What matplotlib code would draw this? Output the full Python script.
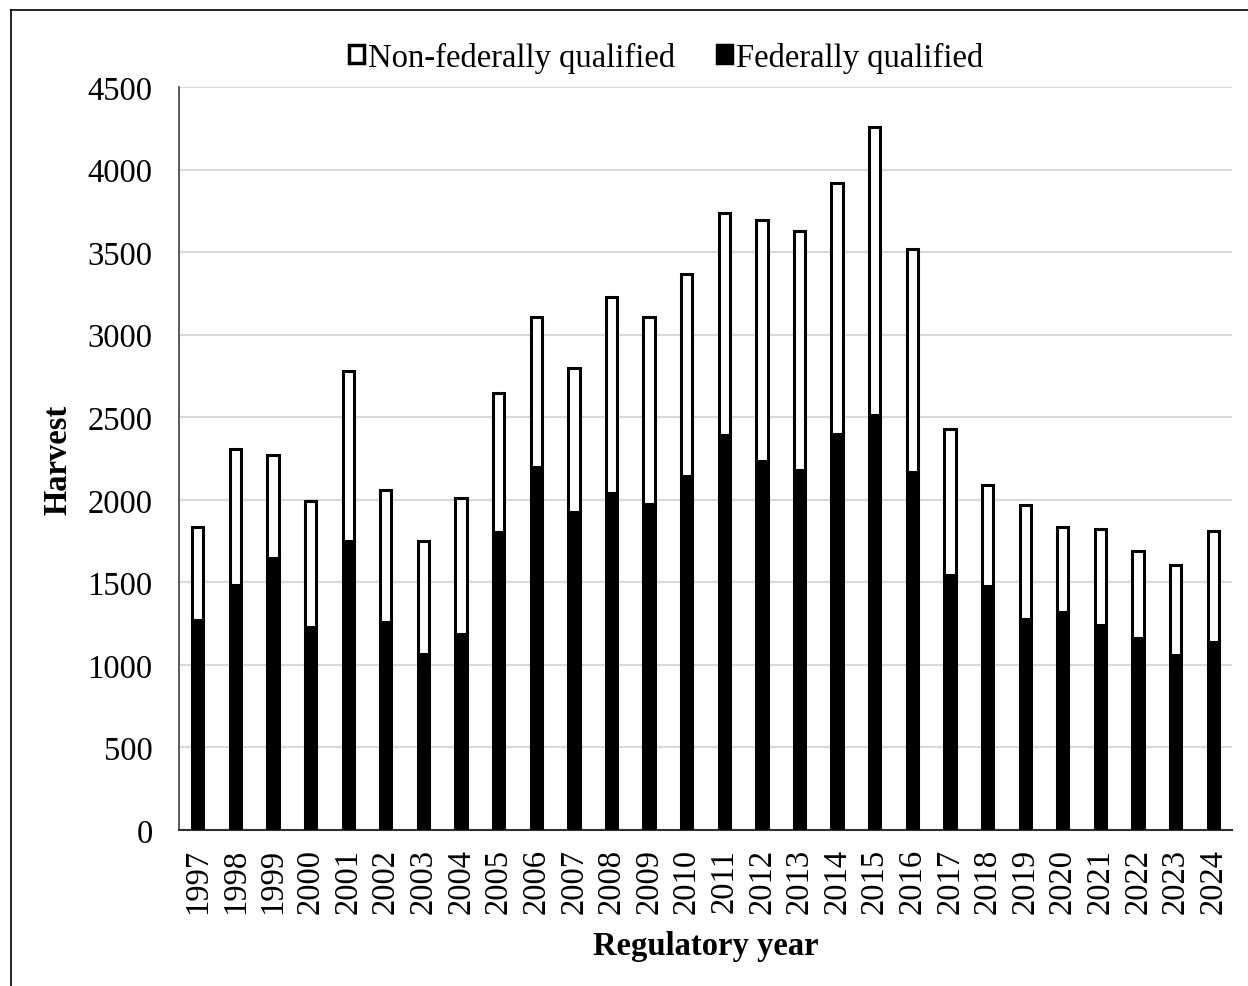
import matplotlib
matplotlib.use("Agg")
import matplotlib.pyplot as plt
from matplotlib.lines import Line2D
from matplotlib.patches import Patch
import numpy as np

plt.rcParams['font.family'] = ['Liberation Serif', 'DejaVu Serif']

years = [str(y) for y in range(1997, 2025)]
total = [1833, 2308, 2271, 1995, 2780, 2059, 1748, 2011, 2645, 3105, 2800, 3226, 3109, 3370,
         3739, 3694, 3628, 3921, 4258, 3519, 2429, 2091, 1966, 1835, 1821, 1692, 1607, 1809]
federal = [1274, 1484, 1649, 1228, 1748, 1260, 1064, 1185, 1807, 2200, 1928, 2043, 1974, 2145,
           2390, 2232, 2180, 2400, 2512, 2168, 1544, 1478, 1278, 1322, 1240, 1163, 1058, 1139]
nonfederal = [t - f for t, f in zip(total, federal)]

W, H = 1248, 987
FS = 23.5
fig = plt.figure(figsize=(W / 100, H / 100), dpi=100)
ax = fig.add_axes([179 / W, 1 - 831 / H, (1232 - 179) / W, (831 - 88) / H])

x = np.arange(len(years))
bw = 0.30
lw = 2.2
ax.bar(x, federal, width=bw, color='black', edgecolor='black', linewidth=lw, zorder=3,
       label='Federally qualified')
ax.bar(x, nonfederal, bottom=federal, width=bw, color='white', edgecolor='black', linewidth=lw,
       zorder=3, label='Non-federally qualified')

ax.set_xlim(-0.5, len(years) - 0.5)
ax.set_ylim(0, 4500)
ax.set_yticks(np.arange(0, 4501, 500))
ax.set_xticks(x)
ax.set_xticklabels(years, rotation=90)
ax.tick_params(axis='both', length=0, labelsize=FS)
ax.tick_params(axis='x', pad=13)
ax.tick_params(axis='y', pad=19)
ax.grid(axis='y', color='#d9d9d9', linewidth=1.5, zorder=0)
ax.set_axisbelow(True)
for s in ['top', 'right']:
    ax.spines[s].set_visible(False)
ax.spines['left'].set_color('#404040')
ax.spines['left'].set_linewidth(1.2)
ax.spines['bottom'].set_color('#303030')
ax.spines['bottom'].set_linewidth(1.5)

ax.set_ylabel('Harvest', fontsize=FS, fontweight='bold', labelpad=10)
ax.set_xlabel('Regulatory year', fontsize=FS, fontweight='bold', labelpad=12)

handles = [Patch(facecolor='white', edgecolor='black', linewidth=2.5),
           Patch(facecolor='black', edgecolor='black', linewidth=2.5)]
fig.legend(handles, ['Non-federally qualified', 'Federally qualified'],
           loc='center', bbox_to_anchor=(666 / W, 1 - 58 / H), ncol=2, frameon=False,
           fontsize=FS, handlelength=0.45, handleheight=0.5, handletextpad=0.12,
           columnspacing=1.3, borderpad=0.1)

fig.add_artist(Line2D([11 / W, 11 / W], [0, 1 - 11 / H], color='black', linewidth=1.2,
                      transform=fig.transFigure))
fig.add_artist(Line2D([11 / W, 1], [1 - 11 / H, 1 - 11 / H], color='black', linewidth=1.2,
                      transform=fig.transFigure))

fig.savefig('out.png', dpi=100)
